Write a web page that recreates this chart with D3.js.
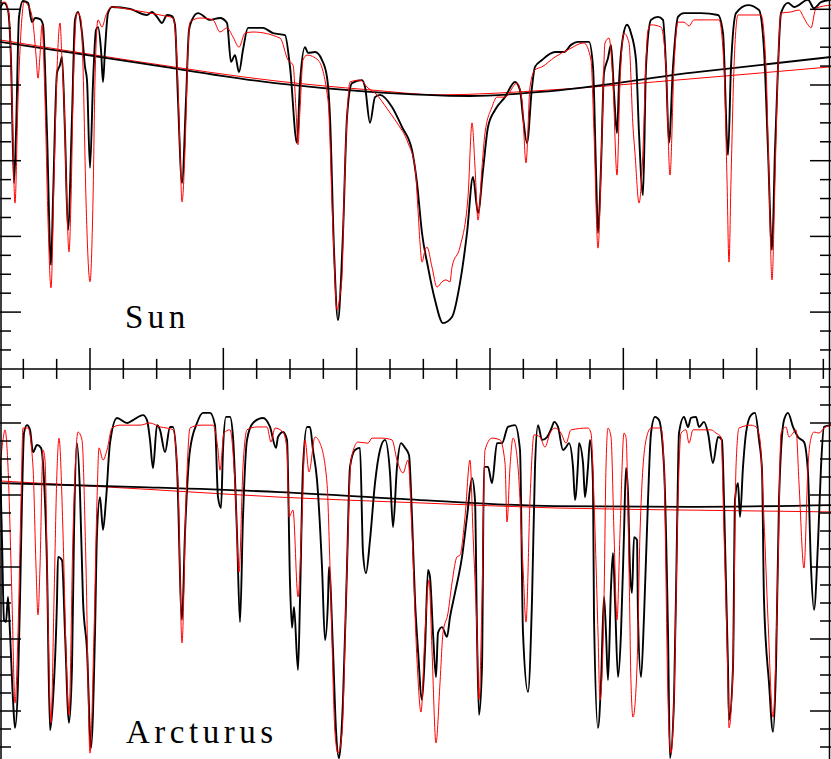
<html>
  <head>
    <meta charset="utf-8">
    <title>Sun and Arcturus</title>
    <script src="https://d3js.org/d3.v7.min.js"></script>
    <style>
      body { margin: 0; background: #fff; }
      svg { display: block; }
      .label { font-family: "Liberation Serif", serif; font-size: 33px; letter-spacing: 4.5px; }
    </style>
  </head>
  <body>
    <svg id="chart" width="831" height="759"></svg>
    <script>
      // wavelength in steps of 0.05 A from an arbitrary zero, flux normalised to the continuum
      const sunObs = [[3.0,1.003],[4.2,1.017],[5.4,0.998],[6.3,0.866],[7.2,0.541],[7.8,0.673],[8.7,0.980],[9.9,1.022],[11.4,1.017],[12.6,0.966],[13.5,0.977],[15.0,0.974],[15.9,0.959],[17.1,0.673],[18.3,0.324],[18.9,0.496],[20.1,0.832],[21.0,0.853],[21.6,0.874],[22.5,0.673],[23.4,0.417],[24.6,0.716],[25.5,0.972],[26.4,0.993],[27.6,0.937],[28.5,0.848],[29.1,0.813],[30.0,0.581],[30.9,0.805],[31.8,0.945],[32.4,0.953],[33.3,0.893],[33.9,0.808],[34.5,0.893],[35.4,0.990],[36.6,1.006],[42.0,1.001],[47.1,0.985],[48.6,0.993],[50.1,0.980],[51.6,0.964],[53.1,0.985],[54.6,0.982],[55.5,0.959],[56.4,0.760],[57.6,0.541],[58.8,0.760],[59.7,0.945],[60.6,0.972],[62.4,0.990],[66.0,0.972],[69.0,0.977],[71.1,0.964],[72.3,0.861],[73.5,0.879],[74.7,0.834],[75.9,0.893],[77.4,0.951],[81.9,0.951],[84.9,0.937],[88.5,0.932],[90.0,0.848],[92.1,0.647],[93.0,0.805],[94.5,0.900],[95.4,0.885],[97.5,0.887],[99.6,0.866],[101.1,0.821],[102.0,0.715],[103.2,0.364],[104.4,0.179],[105.3,0.285],[105.9,0.409],[107.1,0.715],[108.6,0.805],[111.6,0.813],[112.5,0.795],[114.0,0.700],[115.5,0.768],[117.0,0.774],[120.6,0.742],[123.6,0.689],[126.6,0.628],[128.1,0.541],[129.6,0.409],[131.4,0.319],[133.5,0.232],[135.9,0.171],[138.6,0.187],[141.0,0.277],[143.1,0.409],[144.9,0.557],[146.4,0.462],[147.9,0.575],[149.4,0.689],[151.5,0.734],[154.5,0.768],[157.5,0.808],[159.0,0.787],[159.9,0.716],[161.1,0.647],[162.6,0.795],[163.5,0.848],[165.6,0.866],[169.5,0.887],[172.2,0.887],[174.3,0.906],[176.4,0.914],[179.7,0.914],[180.9,0.848],[181.8,0.575],[182.4,0.409],[183.3,0.583],[184.2,0.832],[185.4,0.871],[186.3,0.906],[187.2,0.779],[188.1,0.673],[188.7,0.805],[189.9,0.927],[191.1,0.959],[192.3,0.937],[193.8,0.866],[194.7,0.673],[195.9,0.509],[196.8,0.848],[198.3,0.972],[200.4,0.980],[201.9,0.972],[202.8,0.848],[203.7,0.647],[204.9,0.848],[206.4,0.980],[208.2,0.990],[213.3,0.990],[218.4,0.985],[219.9,0.937],[221.4,0.615],[222.3,0.848],[223.8,0.990],[227.4,1.011],[230.7,0.998],[232.2,0.893],[233.4,0.628],[234.6,0.364],[235.5,0.628],[236.4,0.848],[237.3,0.990],[239.4,1.017],[241.2,1.006],[245.4,1.025],[247.2,1.003],[249.3,1.019],[252.3,1.025]];

      const sunModel = [[3.0,1.017],[4.5,1.019],[5.7,0.985],[6.6,0.760],[7.5,0.488],[8.4,0.760],[9.6,0.980],[10.2,1.019],[11.7,1.006],[12.9,0.964],[13.8,0.879],[14.4,0.818],[15.0,0.879],[15.6,0.959],[16.5,0.760],[17.4,0.443],[18.3,0.264],[19.2,0.549],[20.1,0.840],[21.0,0.964],[21.6,0.866],[22.2,0.760],[23.1,0.470],[23.7,0.359],[24.3,0.496],[24.9,0.760],[26.1,0.993],[27.3,0.972],[27.9,0.848],[28.8,0.496],[30.0,0.280],[30.9,0.496],[31.5,0.813],[32.4,0.972],[33.6,0.953],[34.8,0.985],[36.6,1.006],[42.9,0.998],[51.0,0.985],[54.9,0.977],[56.1,0.866],[57.0,0.628],[57.6,0.491],[58.5,0.628],[59.4,0.893],[60.0,0.966],[63.0,0.977],[66.9,0.972],[69.0,0.940],[71.1,0.951],[72.9,0.927],[74.7,0.900],[76.5,0.937],[78.9,0.940],[87.0,0.924],[89.4,0.866],[90.9,0.853],[91.8,0.734],[92.4,0.642],[93.0,0.734],[93.9,0.866],[95.1,0.879],[98.4,0.866],[101.4,0.760],[102.9,0.417],[104.1,0.206],[105.0,0.245],[105.6,0.293],[106.2,0.496],[107.1,0.715],[108.0,0.808],[111.0,0.813],[113.4,0.792],[115.5,0.779],[119.4,0.734],[121.5,0.708],[122.1,0.700],[125.4,0.647],[127.5,0.583],[128.4,0.470],[129.0,0.383],[129.6,0.332],[130.5,0.364],[131.1,0.372],[132.6,0.319],[134.1,0.266],[135.6,0.280],[136.8,0.285],[138.0,0.280],[138.6,0.319],[141.0,0.372],[143.4,0.504],[144.6,0.700],[145.5,0.583],[146.4,0.443],[147.6,0.583],[148.5,0.673],[150.6,0.742],[152.1,0.768],[154.5,0.768],[158.1,0.805],[159.6,0.760],[160.8,0.594],[162.0,0.795],[163.5,0.840],[165.6,0.848],[169.5,0.874],[173.4,0.893],[178.2,0.911],[180.3,0.866],[181.2,0.673],[182.4,0.369],[183.6,0.673],[184.5,0.911],[185.7,0.924],[186.9,0.805],[188.1,0.562],[189.0,0.805],[190.2,0.937],[191.7,0.911],[192.9,0.689],[193.5,0.620],[194.7,0.488],[195.9,0.628],[196.8,0.866],[197.4,0.945],[198.3,0.959],[201.3,0.953],[202.8,0.848],[204.0,0.562],[205.2,0.848],[206.4,0.966],[208.2,0.966],[209.7,0.956],[211.2,0.972],[218.7,0.972],[220.2,0.848],[221.1,0.549],[221.7,0.332],[222.3,0.549],[223.2,0.848],[224.4,0.985],[231.3,0.985],[232.8,0.848],[233.7,0.549],[234.6,0.285],[235.5,0.549],[236.4,0.848],[237.3,0.990],[240.3,0.993],[242.7,0.998],[244.2,0.977],[245.4,0.959],[246.3,0.951],[247.8,1.003],[252.3,1.011]];

      const sunContObs = [[3.0,0.914],[45.0,0.858],[85.5,0.805],[114.0,0.782],[144.0,0.771],[168.3,0.784],[210.0,0.832],[252.3,0.874]];
      const sunContModel = [[3.0,0.919],[45.0,0.861],[85.5,0.811],[114.0,0.787],[135.0,0.774],[168.3,0.787],[210.0,0.816],[252.3,0.848]];

      const arcObs = [[3.0,0.897],[3.6,0.675],[4.2,0.453],[4.8,0.447],[5.4,0.517],[6.0,0.417],[6.9,0.231],[7.5,0.153],[8.4,0.278],[9.0,0.508],[9.6,0.786],[10.2,0.972],[11.1,0.994],[12.0,0.981],[12.9,0.919],[14.1,0.939],[15.3,0.931],[15.9,0.889],[17.1,0.600],[18.0,0.147],[18.9,0.231],[20.1,0.508],[20.4,0.628],[21.6,0.619],[22.5,0.417],[23.7,0.167],[24.6,0.322],[25.2,0.694],[26.1,0.944],[27.0,0.806],[27.9,0.508],[29.1,0.369],[30.3,0.097],[31.5,0.417],[32.1,0.694],[33.0,0.794],[33.9,0.703],[34.8,0.786],[36.0,0.944],[38.1,1.014],[41.1,1.000],[42.9,1.008],[45.9,1.022],[47.1,1.008],[48.0,0.953],[48.9,0.875],[50.1,0.994],[51.0,0.981],[52.5,0.919],[54.0,0.989],[54.9,0.989],[56.1,0.878],[57.6,0.453],[58.5,0.694],[60.0,0.925],[62.1,1.000],[63.9,1.028],[66.0,1.028],[67.5,0.994],[68.4,0.794],[69.3,0.764],[69.9,0.925],[70.8,1.017],[72.0,1.017],[72.9,0.961],[74.1,0.694],[75.0,0.447],[75.9,0.739],[77.1,0.953],[78.9,1.000],[81.9,1.014],[84.0,0.989],[85.8,0.931],[86.4,0.961],[87.9,0.975],[89.1,0.953],[90.0,0.556],[90.6,0.431],[91.2,0.489],[92.4,0.314],[93.0,0.508],[93.9,0.878],[95.1,0.989],[96.0,0.989],[96.9,0.925],[98.1,0.842],[99.6,0.600],[100.5,0.397],[101.4,0.508],[101.7,0.600],[102.9,0.369],[103.8,0.147],[104.7,0.069],[105.3,0.119],[105.9,0.231],[107.1,0.600],[108.0,0.878],[109.5,0.925],[111.0,0.931],[111.9,0.639],[112.8,0.583],[114.0,0.675],[115.5,0.833],[117.0,0.925],[118.5,0.953],[120.0,0.861],[120.9,0.711],[122.1,0.878],[123.3,0.944],[124.5,0.931],[125.7,0.911],[126.6,0.739],[127.5,0.508],[128.4,0.369],[129.6,0.231],[130.5,0.369],[131.4,0.592],[132.0,0.572],[132.9,0.417],[133.8,0.294],[134.4,0.417],[135.6,0.433],[137.1,0.406],[138.0,0.461],[139.5,0.528],[141.6,0.628],[143.1,0.739],[144.6,0.847],[145.5,0.786],[146.1,0.417],[146.7,0.189],[147.6,0.322],[148.2,0.878],[149.4,0.878],[150.6,0.833],[152.1,0.944],[153.6,0.944],[155.4,0.989],[157.5,0.994],[159.0,0.925],[159.9,0.417],[161.4,0.253],[162.6,0.508],[163.5,0.878],[164.4,0.994],[165.6,0.953],[167.1,0.961],[168.6,0.989],[169.2,1.003],[170.4,0.989],[171.9,0.925],[172.8,0.933],[173.7,0.944],[174.9,0.878],[175.5,0.786],[176.4,0.889],[176.7,0.944],[177.9,0.889],[178.5,0.794],[179.4,0.878],[180.0,0.953],[180.9,0.833],[181.2,0.461],[182.4,0.153],[183.3,0.278],[184.2,0.517],[184.8,0.417],[185.4,0.286],[186.3,0.544],[186.9,0.639],[187.5,0.508],[188.4,0.294],[189.3,0.417],[190.2,0.694],[190.8,0.875],[191.4,0.806],[192.0,0.592],[192.6,0.528],[193.2,0.683],[194.1,0.675],[194.4,0.461],[195.3,0.294],[196.2,0.461],[197.4,0.786],[198.3,0.972],[199.5,1.017],[200.7,1.008],[202.2,0.878],[203.4,0.417],[204.0,0.069],[205.2,0.231],[206.1,0.694],[206.7,0.972],[208.2,1.017],[209.4,0.989],[210.3,1.014],[211.8,1.017],[212.7,0.989],[214.2,1.003],[215.4,0.972],[216.9,0.889],[218.4,0.961],[219.6,0.953],[220.2,0.786],[221.4,0.322],[221.7,0.175],[222.9,0.322],[223.5,0.786],[224.4,0.833],[225.0,0.739],[225.9,0.878],[226.8,0.972],[228.3,1.022],[229.5,1.028],[230.7,0.953],[231.6,0.869],[232.2,0.508],[233.7,0.278],[234.9,0.142],[235.8,0.322],[236.7,0.786],[238.2,1.008],[239.4,1.028],[240.9,0.989],[242.4,0.961],[244.2,0.947],[245.4,0.861],[246.3,0.600],[247.2,0.481],[248.4,0.667],[249.3,0.878],[250.2,0.989],[252.3,0.994]];

      const arcModel = [[3.0,0.878],[3.9,0.953],[4.5,0.981],[5.4,0.878],[6.6,0.508],[7.5,0.222],[8.4,0.417],[9.3,0.786],[9.9,0.986],[11.4,0.986],[12.9,0.878],[13.8,0.600],[14.4,0.467],[15.0,0.600],[15.9,0.925],[16.5,0.897],[17.4,0.453],[18.3,0.167],[19.2,0.508],[20.1,0.869],[20.7,0.958],[21.9,0.694],[22.8,0.369],[23.7,0.189],[24.9,0.694],[26.4,0.975],[27.6,0.953],[28.8,0.600],[30.0,0.083],[31.2,0.417],[32.1,0.786],[32.7,0.931],[33.9,0.897],[35.1,0.925],[36.6,0.986],[39.0,0.994],[45.0,0.994],[48.0,1.000],[51.0,0.989],[53.1,0.986],[54.9,0.981],[56.4,0.833],[57.6,0.389],[58.8,0.786],[60.0,0.986],[63.0,0.994],[66.9,0.994],[68.4,0.925],[69.0,0.869],[70.2,0.972],[72.0,0.981],[73.5,0.833],[74.7,0.586],[75.9,0.878],[77.1,0.981],[80.1,0.989],[83.1,0.989],[84.3,0.947],[85.5,0.986],[87.9,0.975],[89.1,0.925],[89.7,0.739],[90.9,0.758],[92.4,0.517],[93.6,0.739],[94.5,0.953],[95.7,0.864],[97.5,0.961],[99.0,0.944],[101.1,0.833],[102.0,0.600],[103.5,0.139],[104.4,0.083],[105.6,0.139],[107.1,0.600],[108.3,0.897],[110.4,0.947],[113.4,0.944],[114.6,0.958],[117.6,0.958],[120.6,0.953],[122.1,0.897],[123.9,0.861],[125.4,0.897],[126.6,0.694],[128.1,0.342],[129.3,0.197],[130.5,0.417],[131.7,0.564],[132.6,0.369],[133.8,0.111],[135.0,0.278],[135.9,0.417],[137.4,0.472],[138.6,0.556],[140.1,0.628],[141.0,0.633],[142.5,0.739],[144.0,0.897],[144.9,0.694],[146.1,0.417],[146.7,0.231],[147.6,0.508],[148.5,0.925],[150.6,0.958],[153.0,0.953],[154.5,0.889],[155.1,0.725],[156.0,0.878],[156.9,0.958],[158.4,0.878],[159.9,0.600],[160.8,0.447],[162.0,0.786],[163.2,0.967],[165.0,0.961],[166.5,0.933],[168.0,0.972],[169.5,0.986],[171.3,0.972],[172.8,0.944],[174.3,0.981],[179.4,0.986],[180.3,0.972],[181.2,0.786],[182.4,0.417],[183.0,0.231],[184.2,0.508],[184.8,0.878],[185.4,0.986],[186.3,0.961],[187.2,0.694],[188.1,0.453],[189.0,0.694],[190.2,0.972],[190.8,0.961],[191.7,0.600],[192.3,0.278],[192.9,0.183],[194.1,0.322],[195.0,0.694],[196.8,0.953],[198.3,0.986],[201.3,0.986],[202.2,0.878],[203.4,0.231],[204.3,0.083],[205.2,0.231],[206.4,0.786],[207.3,0.972],[208.8,0.981],[209.7,0.944],[210.9,0.981],[216.3,0.981],[217.8,0.972],[219.3,0.961],[220.2,0.694],[221.4,0.278],[221.7,0.153],[222.9,0.322],[223.8,0.878],[224.7,0.986],[228.3,0.994],[229.8,0.989],[231.0,0.953],[232.2,0.731],[233.4,0.453],[234.9,0.183],[236.4,0.600],[237.3,0.972],[238.8,0.989],[239.7,0.961],[240.9,0.972],[241.8,0.981],[242.7,0.833],[244.2,0.597],[245.4,0.878],[246.0,0.944],[247.2,0.975],[248.7,0.972],[250.2,0.986],[252.3,0.994]];

      const arcContObs = [[3.0,0.833],[45.0,0.822],[87.0,0.808],[129.0,0.786],[169.5,0.769],[210.0,0.767],[252.3,0.772]];
      const arcContModel = [[3.0,0.839],[45.0,0.817],[87.0,0.794],[129.0,0.778],[169.5,0.764],[210.0,0.758],[252.3,0.753]];

      const waveTicks = d3.range(10, 251, 10);
      const sunFluxTicks = d3.range(2, 21).map(k => k * 0.05);
      const arcFluxTicks = d3.range(2, 23).map(k => k * 0.05);
      const panelNames = ["Sun", "Arcturus"];

      const svg = d3.select("svg#chart");
      const width = +svg.attr("width");
      const height = +svg.attr("height");

      const x = d3.scaleLinear().domain([3, 252.3]).range([0, width]);
      const ySun = d3.scaleLinear().domain([0, 1]).range([387.8, 9.3]);
      const yArc = d3.scaleLinear().domain([0, 1]).range([783, 423]);
      const midY = ySun(0.05);

      const isMajor = v => Math.abs(v / 0.2 - Math.round(v / 0.2)) < 1e-6;

      // clip paths for each panel
      const defs = svg.append("defs");
      defs.append("clipPath").attr("id", "clipSun")
        .append("rect").attr("x", 0).attr("y", 0).attr("width", width).attr("height", midY);
      defs.append("clipPath").attr("id", "clipArc")
        .append("rect").attr("x", 0).attr("y", midY).attr("width", width).attr("height", height - midY);

      function drawPanel(yScale, clip, obs, model, contObs, contModel) {
        let g = svg.append("g").attr("clip-path", "url(#" + clip + ")");
        let line = d3.line()
          .x(d => x(d[0]))
          .y(d => yScale(d[1]))
          .curve(d3.curveMonotoneX);

        g.append("path").datum(contModel)
          .attr("fill", "none").attr("stroke", "#ff0000").attr("stroke-width", 1)
          .attr("d", line);
        g.append("path").datum(contObs)
          .attr("fill", "none").attr("stroke", "#000").attr("stroke-width", 1.8)
          .attr("d", line);
        g.append("path").datum(obs)
          .attr("fill", "none").attr("stroke", "#000").attr("stroke-width", 1.9)
          .attr("stroke-linejoin", "round")
          .attr("d", line);
        g.append("path").datum(model)
          .attr("fill", "none").attr("stroke", "#ff0000").attr("stroke-width", 1)
          .attr("d", line);
      }

      drawPanel(ySun, "clipSun", sunObs, sunModel, sunContObs, sunContModel);
      drawPanel(yArc, "clipArc", arcObs, arcModel, arcContObs, arcContModel);

      // frame and ticks
      let axes = svg.append("g").attr("stroke", "#000").attr("stroke-width", 1.5);

      axes.append("line").attr("x1", 0).attr("x2", width).attr("y1", midY).attr("y2", midY);
      axes.append("line").attr("x1", 1).attr("x2", 1).attr("y1", 0).attr("y2", height);
      axes.append("line").attr("x1", width - 1.5).attr("x2", width - 1.5).attr("y1", 0).attr("y2", height);

      // wavelength ticks, up into the Sun panel and down into the Arcturus panel
      axes.selectAll("line.xtick").data(waveTicks)
        .join("line")
        .attr("class", "xtick")
        .attr("x1", d => x(d)).attr("x2", d => x(d))
        .attr("y1", d => midY - ((d - 30) % 40 === 0 ? 21 : 10))
        .attr("y2", d => midY + ((d - 30) % 40 === 0 ? 21 : 10));

      function fluxTicks(ticks, yScale, cls) {
        axes.selectAll("line." + cls + "L").data(ticks)
          .join("line")
          .attr("class", cls + "L")
          .attr("x1", 0).attr("x2", d => isMajor(d) ? 21 : 11)
          .attr("y1", d => yScale(d)).attr("y2", d => yScale(d));
        axes.selectAll("line." + cls + "R").data(ticks)
          .join("line")
          .attr("class", cls + "R")
          .attr("x1", width).attr("x2", d => width - (isMajor(d) ? 21 : 11))
          .attr("y1", d => yScale(d)).attr("y2", d => yScale(d));
      }
      fluxTicks(sunFluxTicks, ySun, "ys");
      fluxTicks(arcFluxTicks, yArc, "ya");

      svg.append("text").attr("class", "label")
        .attr("x", 125).attr("y", 328).text(panelNames[0]);
      svg.append("text").attr("class", "label")
        .attr("x", 126).attr("y", 743).text(panelNames[1]);
    </script>
  </body>
</html>
